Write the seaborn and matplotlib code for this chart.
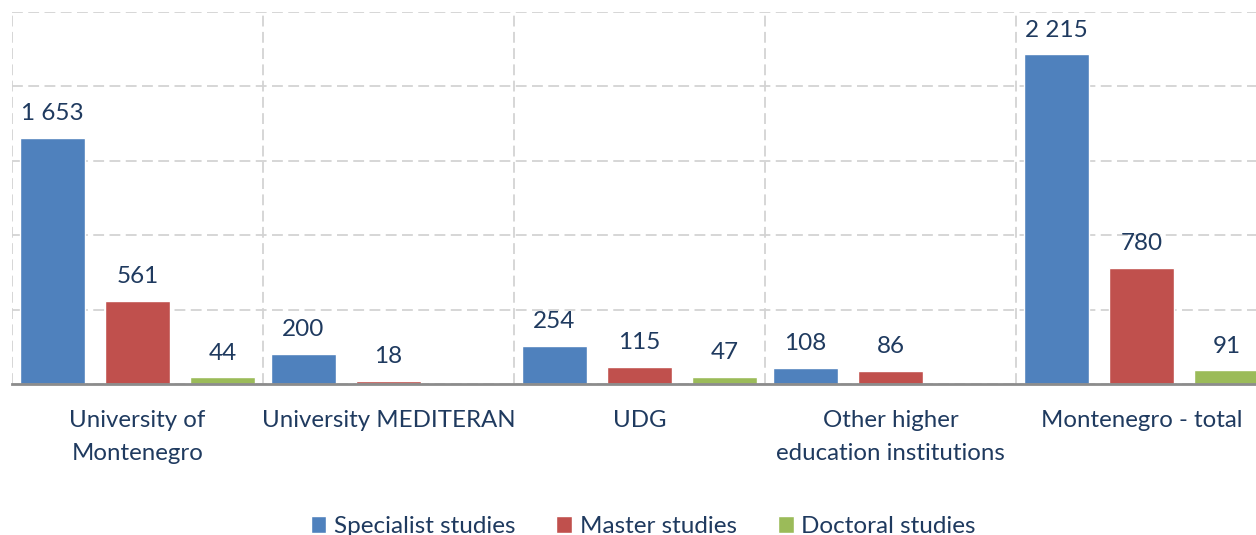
import matplotlib
matplotlib.use("Agg")
import matplotlib.pyplot as plt
import numpy as np
import pandas as pd
import seaborn as sns

# dati
categories = ["University of\nMontenegro", "University MEDITERAN", "UDG",
              "Other higher\neducation institutions", "Montenegro - total"]
specialist = [1653, 200, 254, 108, 2215]
master = [561, 18, 115, 86, 780]
doctoral = [44, np.nan, 47, np.nan, 91]
series_names = ["Specialist studies", "Master studies", "Doctoral studies"]
colors = ["#4F81BD", "#C0504D", "#9BBB59"]
text_color = "#1F3A5F"

df = pd.DataFrame({
    "category": categories * 3,
    "series": [s for s in series_names for _ in categories],
    "value": specialist + master + doctoral,
})

sns.set_style("white")
plt.rcParams["font.family"] = ["Lato", "DejaVu Sans"]

fig = plt.figure(figsize=(12.56, 5.35), dpi=100)
# l'asse esce dal bordo destro come nell'immagine originale
ax = fig.add_axes([12 / 1256, 1 - 384 / 535, 1255 / 1256, 372 / 535])

sns.barplot(data=df, x="category", y="value", hue="series", palette=colors,
            width=1.016, gap=0.235, ax=ax, saturation=1, legend=True)

ax.set_xlim(-0.5, 4.5)
ax.set_ylim(0, 2500)
ax.set_yticks(np.arange(0, 2501, 500))
ax.set_xticks(np.arange(-0.5, 5, 1), minor=True)
ax.grid(True, axis="y", which="major", color="#D3D3D3", linestyle=(0, (6, 3)), linewidth=1.3)
ax.grid(True, axis="x", which="minor", color="#D3D3D3", linestyle=(0, (6, 3)), linewidth=1.3)
ax.grid(False, axis="x", which="major")
ax.set_axisbelow(True)
for side in ["left", "right", "top"]:
    ax.spines[side].set_visible(False)
ax.spines["bottom"].set_color("#8C8C8C")
ax.spines["bottom"].set_linewidth(2)
ax.tick_params(axis="y", left=False, labelleft=False)
ax.tick_params(axis="x", which="both", bottom=False, pad=15, labelsize=17.3,
               labelcolor=text_color)
for lbl in ax.get_xticklabels():
    lbl.set_linespacing(1.7)
    lbl.set_verticalalignment("top")
ax.set_xlabel("")
ax.set_ylabel("")

# etichette dei valori
for cont in ax.containers:
    for bar in cont:
        h = bar.get_height()
        if np.isnan(h) or h == 0:
            continue
        ax.annotate(f"{int(h):,}".replace(",", " "),
                    (bar.get_x() + bar.get_width() / 2, h),
                    xytext=(0, 10), textcoords="offset points",
                    ha="center", va="bottom", fontsize=17.5, color=text_color)

handles, labels = ax.get_legend_handles_labels()
ax.get_legend().remove()
fig.legend(handles, labels, loc="center", bbox_to_anchor=(643 / 1256, 0.016),
           ncol=3, frameon=False, fontsize=17.5, labelcolor=text_color,
           handlelength=0.65, handleheight=0.65, handletextpad=0.3, columnspacing=1.7)

fig.savefig("out.png", dpi=100)
